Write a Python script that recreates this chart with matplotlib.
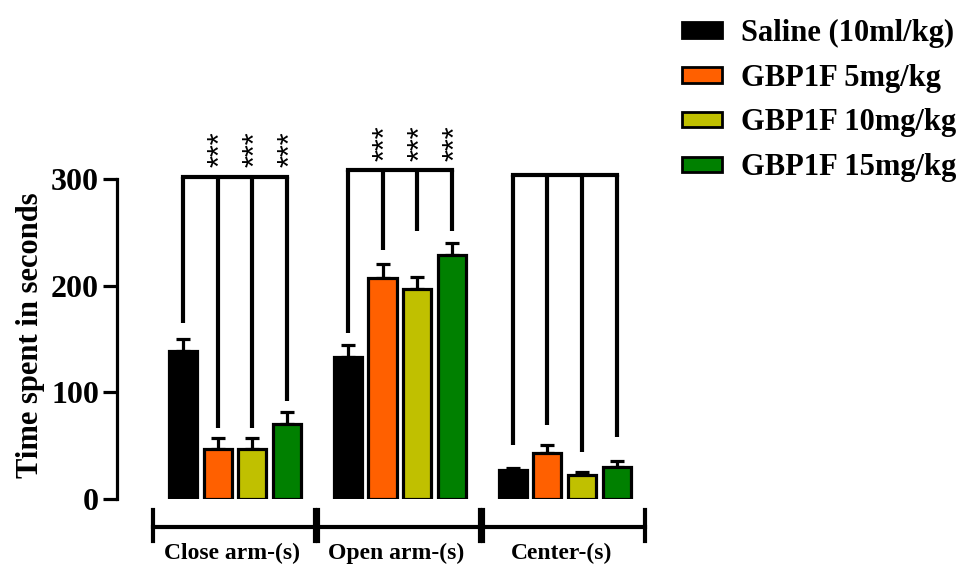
import numpy as np
import matplotlib
matplotlib.use('Agg')
import matplotlib.pyplot as plt

# ---- data ----
groups = ['Close arm-(s)', 'Open arm-(s)', 'Center-(s)']
treatments = ['Saline (10ml/kg)', 'GBP1F 5mg/kg', 'GBP1F 10mg/kg', 'GBP1F 15mg/kg']
colors = ['#000000', '#FF6000', '#C0C000', '#008000']

means = [[139, 47, 47, 70],      # close arm
         [133, 207, 197, 229],   # open arm
         [27, 43, 22.5, 30]]     # center
sems = [[11, 10, 10, 12],
        [11, 13, 11, 11],
        [2, 8, 3, 6]]

# significance brackets: top of bracket and lower end of each leg
bracket_top = [302, 308, 304]
leg_ends = [[165, 67, 67, 92],
            [156, 233, 251, 251],
            [51, 69, 44, 58]]
stars = [['', '***', '***', '***'],
         ['', '***', '***', '***'],
         ['', '', '', '']]

yticks = [0, 100, 200, 300]

plt.rcParams['font.family'] = ['Liberation Serif', 'DejaVu Serif']
plt.rcParams['font.weight'] = 'bold'

fig = plt.figure(figsize=(9.72, 5.64), dpi=100)
ax = fig.add_axes([117/972, 1-499/564, (648-117)/972, 384/564])

group_start = [0, 4.75, 9.5]
lw = 2.3
for g in range(3):
    x = group_start[g] + np.arange(4)
    ax.bar(x, means[g], width=0.81, color=colors, edgecolor='black', linewidth=lw,
           zorder=3)
    ax.errorbar(x, means[g], yerr=[np.zeros(4), sems[g]], fmt='none', ecolor='black',
                elinewidth=lw, capsize=4.8, capthick=lw, zorder=2)
    # bracket
    ax.plot([x[0], x[-1]], [bracket_top[g], bracket_top[g]], color='black', lw=3,
            solid_capstyle='projecting', clip_on=False)
    for i in range(4):
        ax.plot([x[i], x[i]], [bracket_top[g], leg_ends[g][i]], color='black', lw=3,
                solid_capstyle='butt', clip_on=False)
        if stars[g][i]:
            ax.text(x[i] + 0.12, bracket_top[g] + 26, stars[g][i], rotation=90,
                    ha='center', va='center', fontsize=22, family='Liberation Sans',
                    fontweight='normal', clip_on=False)
    # group bracket below bars
    mid = group_start[g] + 1.5
    x0, x1 = mid - 2.35, mid + 2.3
    ax.plot([x0, x1], [-26, -26], color='black', lw=3, clip_on=False)
    ax.plot([x0, x0], [-10, -39], color='black', lw=3, clip_on=False)
    ax.plot([x1, x1], [-10, -39], color='black', lw=3, clip_on=False)
    ax.text(mid - 0.1, -41, groups[g], ha='center', va='top', fontsize=17,
            fontweight='bold', clip_on=False)

ax.set_xlim(-1.9, 13.4)
ax.set_ylim(0, 360)
ax.spines['left'].set_bounds(0, 300)
ax.spines['left'].set_linewidth(2.3)
for s in ['top', 'right', 'bottom']:
    ax.spines[s].set_visible(False)
ax.set_xticks([])
ax.set_yticks(yticks)
ax.tick_params(axis='y', length=10, width=2.3, labelsize=23, pad=3)
for t in ax.get_yticklabels():
    t.set_fontweight('bold')
ax.set_ylabel('Time spent in seconds', fontsize=22, fontweight='bold')
ax.yaxis.set_label_coords(-0.136, 0.427)

handles = [plt.Rectangle((0, 0), 1, 1, facecolor=c, edgecolor='black', linewidth=2)
           for c in colors]
fig.legend(handles, treatments, loc='upper left', bbox_to_anchor=(0.702, 0.967),
           frameon=False, handlelength=1.3, handleheight=0.42,
           handletextpad=0.62, labelspacing=0.52, borderpad=0, borderaxespad=0,
           prop={'weight': 'bold', 'size': 22})

fig.savefig('out.png', dpi=100)
